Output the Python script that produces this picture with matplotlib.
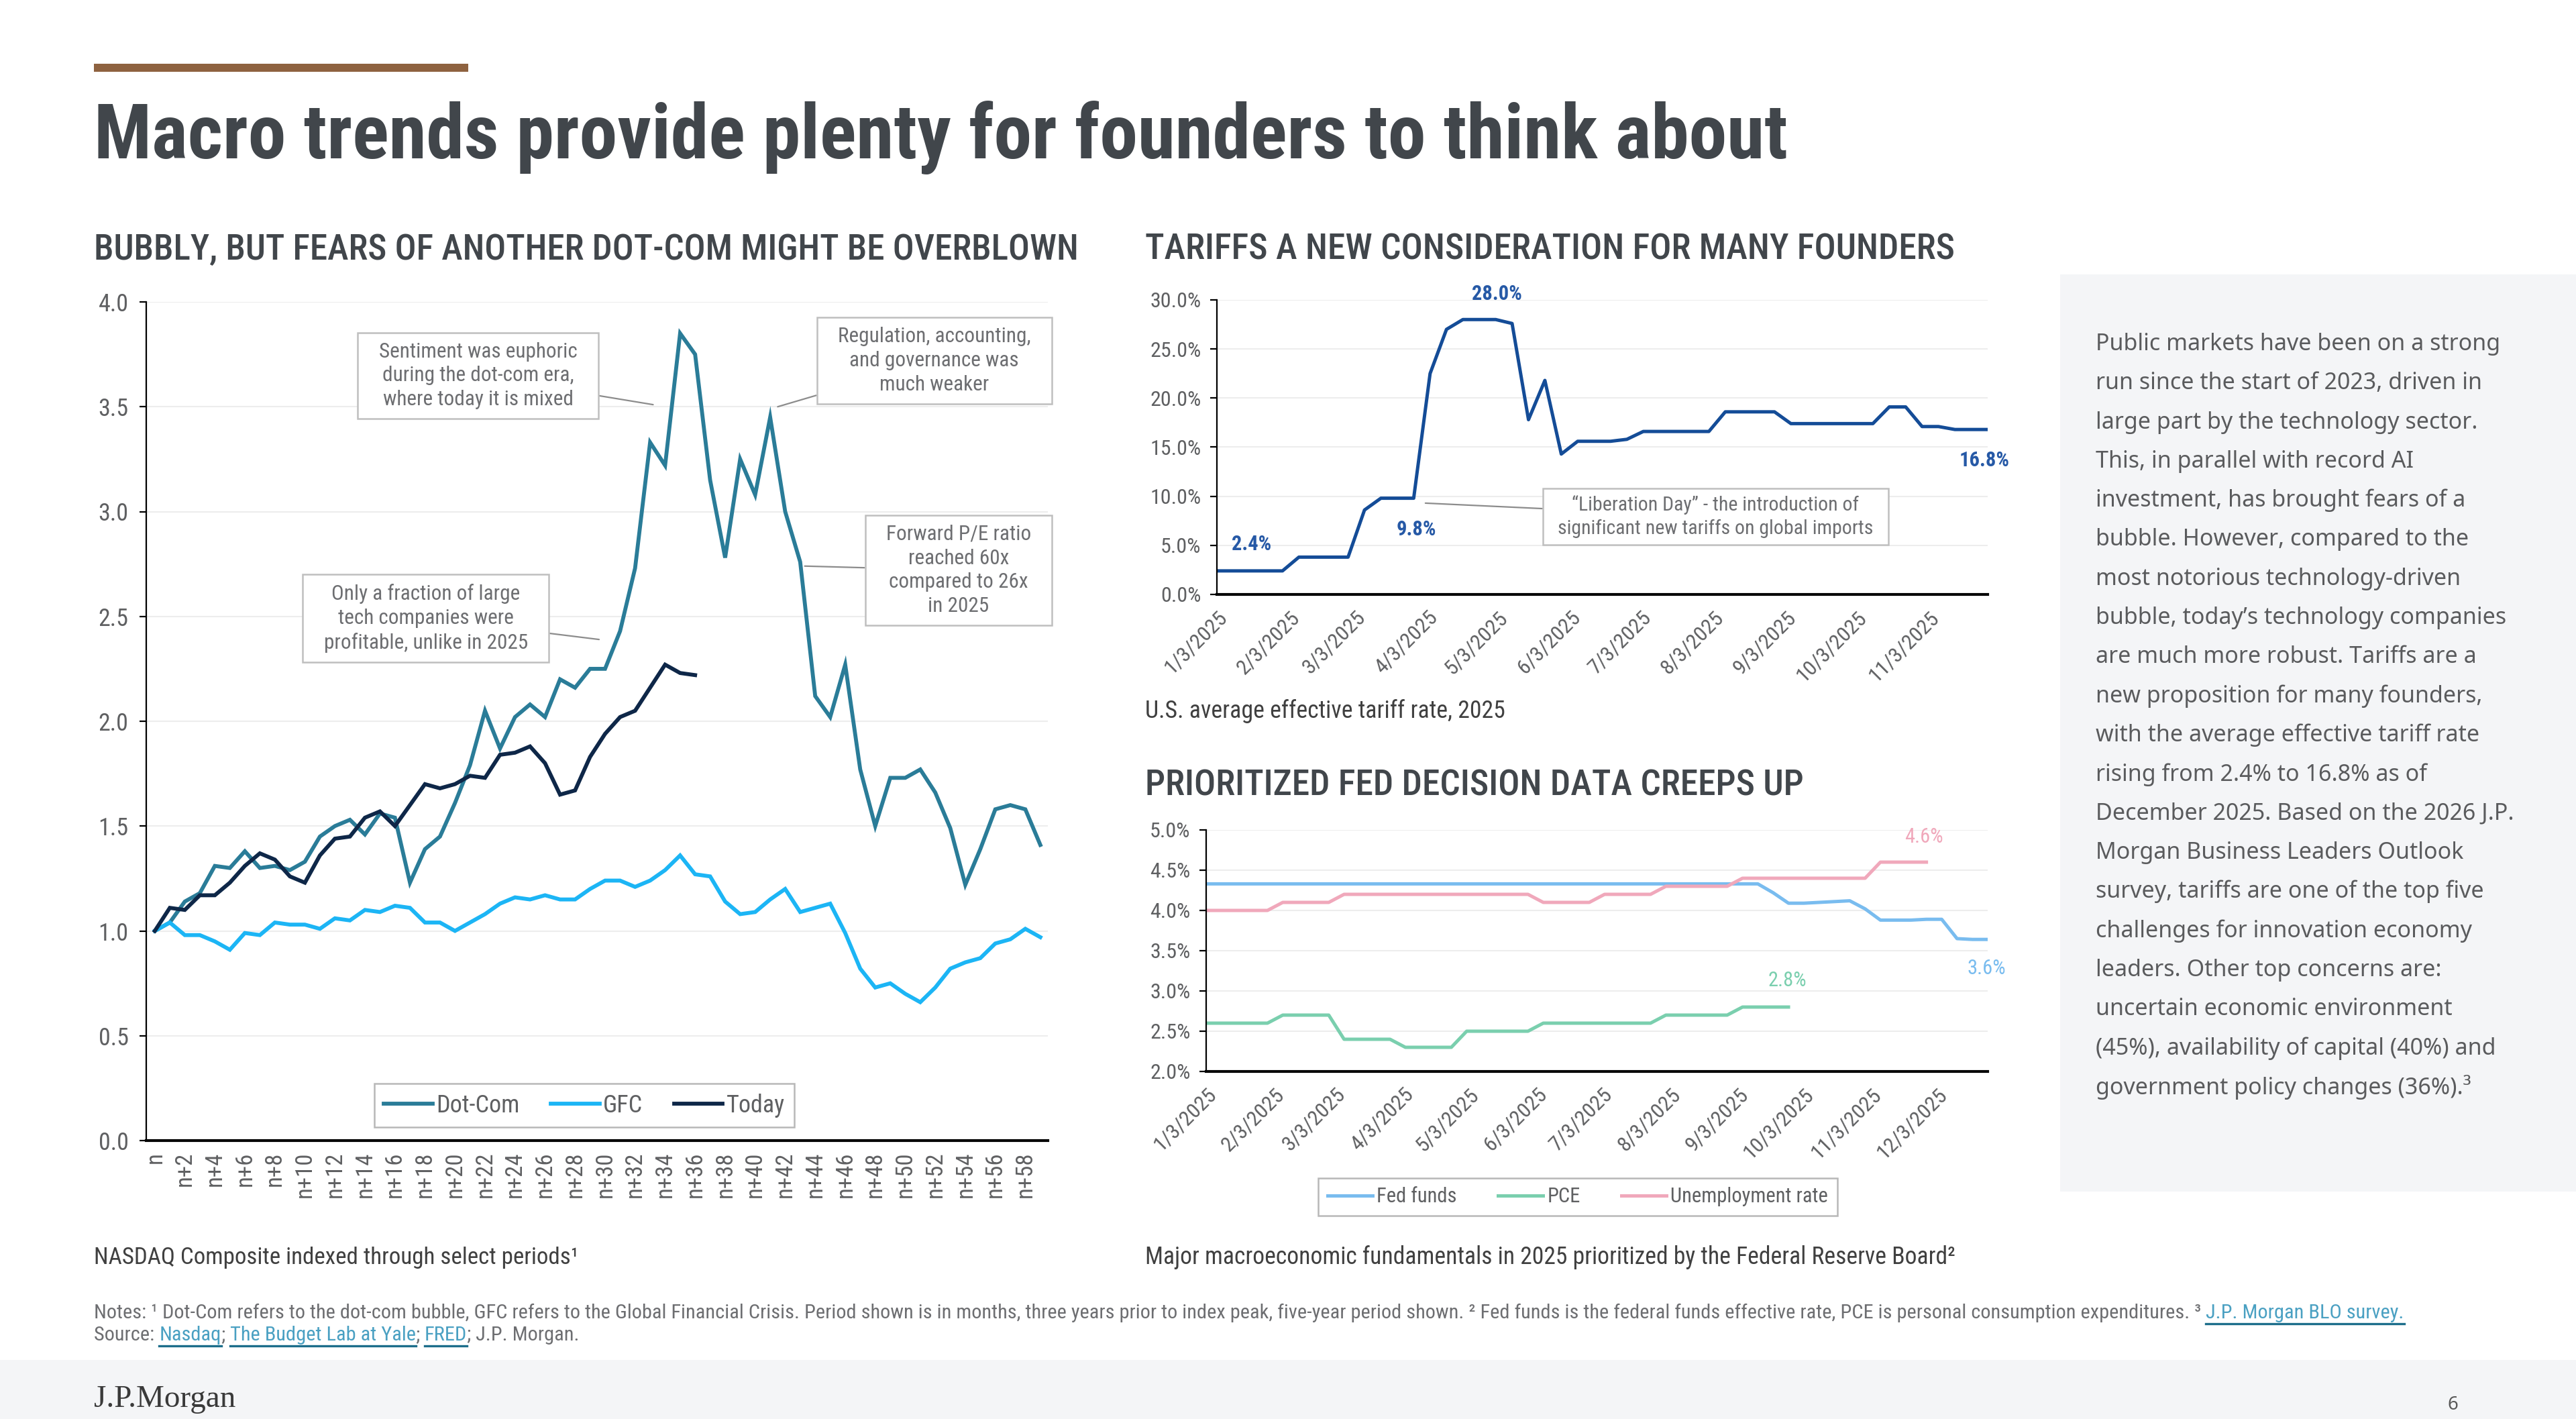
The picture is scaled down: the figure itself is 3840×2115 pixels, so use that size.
import matplotlib
matplotlib.use('Agg')
import matplotlib.pyplot as plt
import pandas as pd
from matplotlib import font_manager
from matplotlib.patches import Rectangle
from matplotlib.lines import Line2D
from matplotlib.path import Path

# figure size in pixels (saved at dpi 100)
W, H = 3840, 2115

installed = {f.name for f in font_manager.fontManager.ttflist}
def pick(*names):
    for n in names:
        if n in installed:
            return n
    return 'DejaVu Sans'

NARROW = pick('Liberation Sans Narrow', 'Roboto Condensed', 'Open Sans Condensed', 'DejaVu Sans')
BODY = pick('Noto Sans', 'Open Sans', 'DejaVu Sans')
SERIF = pick('Liberation Serif', 'DejaVu Serif')
plt.rcParams['font.family'] = [NARROW, 'DejaVu Sans']

# ---------------- data ----------------
# left chart: NASDAQ indexed, months around peak
periods = ['n'] + ['n+%d' % i for i in range(1, 60)]
dotcom = [1.00, 1.04, 1.14, 1.18, 1.31, 1.30, 1.38, 1.30, 1.31, 1.29,
          1.33, 1.45, 1.50, 1.53, 1.46, 1.56, 1.54, 1.23, 1.39, 1.45,
          1.61, 1.79, 2.05, 1.87, 2.02, 2.08, 2.02, 2.20, 2.16, 2.25,
          2.25, 2.43, 2.73, 3.33, 3.22, 3.85, 3.75, 3.15, 2.78, 3.25,
          3.08, 3.45, 3.00, 2.76, 2.12, 2.02, 2.27, 1.77, 1.50, 1.73,
          1.73, 1.77, 1.66, 1.49, 1.22, 1.39, 1.58, 1.60, 1.58, 1.41]
gfc = [1.00, 1.04, 0.98, 0.98, 0.95, 0.91, 0.99, 0.98, 1.04, 1.03,
       1.03, 1.01, 1.06, 1.05, 1.10, 1.09, 1.12, 1.11, 1.04, 1.04,
       1.00, 1.04, 1.08, 1.13, 1.16, 1.15, 1.17, 1.15, 1.15, 1.20,
       1.24, 1.24, 1.21, 1.24, 1.29, 1.36, 1.27, 1.26, 1.14, 1.08,
       1.09, 1.15, 1.20, 1.09, 1.11, 1.13, 0.99, 0.82, 0.73, 0.75,
       0.70, 0.66, 0.73, 0.82, 0.85, 0.87, 0.94, 0.96, 1.01, 0.97]
today = [1.00, 1.11, 1.10, 1.17, 1.17, 1.23, 1.31, 1.37, 1.34, 1.26,
         1.23, 1.36, 1.44, 1.45, 1.54, 1.57, 1.50, 1.60, 1.70, 1.68,
         1.70, 1.74, 1.73, 1.84, 1.85, 1.88, 1.80, 1.65, 1.67, 1.83,
         1.94, 2.02, 2.05, 2.16, 2.27, 2.23, 2.22]

# weekly dates 2025
weeks = ['2025-01-03', '2025-01-10', '2025-01-17', '2025-01-24', '2025-01-31',
         '2025-02-07', '2025-02-14', '2025-02-21', '2025-02-28',
         '2025-03-07', '2025-03-14', '2025-03-21', '2025-03-28',
         '2025-04-04', '2025-04-11', '2025-04-18', '2025-04-25',
         '2025-05-02', '2025-05-09', '2025-05-16', '2025-05-23', '2025-05-30',
         '2025-06-06', '2025-06-13', '2025-06-20', '2025-06-27',
         '2025-07-04', '2025-07-11', '2025-07-18', '2025-07-25',
         '2025-08-01', '2025-08-08', '2025-08-15', '2025-08-22', '2025-08-29',
         '2025-09-05', '2025-09-12', '2025-09-19', '2025-09-26',
         '2025-10-03', '2025-10-10', '2025-10-17', '2025-10-24', '2025-10-31',
         '2025-11-07', '2025-11-14', '2025-11-21', '2025-11-28',
         '2025-12-05', '2025-12-12', '2025-12-19', '2025-12-26']

# U.S. average effective tariff rate (%), Jan 3 - Nov 28
tariff = [2.4, 2.4, 2.4, 2.4, 2.4,
          3.8, 3.8, 3.8, 3.8,
          8.6, 9.8, 9.8, 9.8,
          22.5, 27.0, 28.0, 28.0,
          28.0, 27.6, 17.8, 21.8, 14.3,
          15.6, 15.6, 15.6, 15.8,
          16.6, 16.6, 16.6, 16.6,
          16.6, 18.6, 18.6, 18.6, 18.6,
          17.4, 17.4, 17.4, 17.4,
          17.4, 17.4, 19.1, 19.1, 17.1,
          17.1, 16.8, 16.8, 16.8]

# Fed decision data (%)
fed_funds = [4.33, 4.33, 4.33, 4.33, 4.33,
             4.33, 4.33, 4.33, 4.33,
             4.33, 4.33, 4.33, 4.33,
             4.33, 4.33, 4.33, 4.33,
             4.33, 4.33, 4.33, 4.33, 4.33,
             4.33, 4.33, 4.33, 4.33,
             4.33, 4.33, 4.33, 4.33,
             4.33, 4.33, 4.33, 4.33, 4.33,
             4.33, 4.33, 4.22, 4.09,
             4.09, 4.10, 4.11, 4.12, 4.02,
             3.88, 3.88, 3.88, 3.89,
             3.89, 3.65, 3.64, 3.64]
pce = [2.6, 2.6, 2.6, 2.6, 2.6,
       2.7, 2.7, 2.7, 2.7,
       2.4, 2.4, 2.4, 2.4,
       2.3, 2.3, 2.3, 2.3,
       2.5, 2.5, 2.5, 2.5, 2.5,
       2.6, 2.6, 2.6, 2.6,
       2.6, 2.6, 2.6, 2.6,
       2.7, 2.7, 2.7, 2.7, 2.7,
       2.8, 2.8, 2.8, 2.8]
unemp = [4.0, 4.0, 4.0, 4.0, 4.0,
         4.1, 4.1, 4.1, 4.1,
         4.2, 4.2, 4.2, 4.2,
         4.2, 4.2, 4.2, 4.2,
         4.2, 4.2, 4.2, 4.2, 4.2,
         4.1, 4.1, 4.1, 4.1,
         4.2, 4.2, 4.2, 4.2,
         4.3, 4.3, 4.3, 4.3, 4.3,
         4.4, 4.4, 4.4, 4.4,
         4.4, 4.4, 4.4, 4.4, 4.4,
         4.6, 4.6, 4.6, 4.6]

tariff_ticks = ['1/3/2025', '2/3/2025', '3/3/2025', '4/3/2025', '5/3/2025', '6/3/2025',
                '7/3/2025', '8/3/2025', '9/3/2025', '10/3/2025', '11/3/2025']
fed_ticks = tariff_ticks + ['12/3/2025']

body_lines = ["Public markets have been on a strong",
              "run since the start of 2023, driven in",
              "large part by the technology sector.",
              "This, in parallel with record AI",
              "investment, has brought fears of a",
              "bubble. However, compared to the",
              "most notorious technology-driven",
              "bubble, today\u2019s technology companies",
              "are much more robust. Tariffs are a",
              "new proposition for many founders,",
              "with the average effective tariff rate",
              "rising from 2.4% to 16.8% as of",
              "December 2025. Based on the 2026 J.P.",
              "Morgan Business Leaders Outlook",
              "survey, tariffs are one of the top five",
              "challenges for innovation economy",
              "leaders. Other top concerns are:",
              "uncertain economic environment",
              "(45%), availability of capital (40%) and",
              "government policy changes (36%).\u00b3"]

# colours
C_DOT, C_GFC, C_TODAY = '#2A7C98', '#1CB5F5', '#0E2748'
C_TAR, C_TARLBL = '#144C97', '#2659A6'
C_FED, C_PCE, C_UNEMP = '#79BCEF', '#7ACFAE', '#F0A8BB'
DARK, GREY, GRID = '#41464B', '#5F6062', '#EDEDED'

fig = plt.figure(figsize=(W / 100, H / 100), dpi=100)
fig.patch.set_facecolor('white')
R = fig.canvas.get_renderer()

def fx(x):
    return x / W

def fy(y):
    return 1 - y / H

def put(x, y, s, width=None, size=20, **kw):
    t = fig.text(fx(x), fy(y), s, fontsize=size, **kw)
    if width:
        w = t.get_window_extent(R).width
        t.set_fontsize(size * width / w)
    return t

def make_box(padx, pady):
    # square box with separate horizontal / vertical padding (in font-size units)
    def box(x0, y0, width, height, mutation_size):
        px, py = padx * mutation_size, pady * mutation_size
        x0, y0 = x0 - px, y0 - py
        x1, y1 = x0 + width + 2 * px, y0 + height + 2 * py
        return Path([(x0, y0), (x1, y0), (x1, y1), (x0, y1), (x0, y0)], closed=True)
    return box

def style_axes(ax, tick_size):
    for s in ['top', 'right']:
        ax.spines[s].set_visible(False)
    ax.spines['left'].set_linewidth(1.6)
    ax.spines['bottom'].set_linewidth(3.0)
    ax.spines['left'].set_color('black')
    ax.spines['bottom'].set_color('black')
    ax.grid(axis='y', color=GRID, lw=1.5)
    ax.set_axisbelow(True)
    ax.tick_params(axis='y', length=7, width=1.6, pad=10, labelsize=tick_size, labelcolor=GREY)
    ax.tick_params(axis='x', length=0, labelsize=tick_size, labelcolor=GREY)

# background panels
fig.add_artist(Rectangle((fx(3071), fy(1776)), fx(3840 - 3071), (1776 - 409) / H,
                         transform=fig.transFigure, fc='#F4F5F7', ec='none', zorder=0))
fig.add_artist(Rectangle((0, 0), 1, (2115 - 2027) / H,
                         transform=fig.transFigure, fc='#F4F5F7', ec='none', zorder=0))
fig.add_artist(Rectangle((fx(140), fy(107)), fx(698 - 140), 12 / H,
                         transform=fig.transFigure, fc='#8E6240', ec='none'))

# titles
put(140, 236, "Macro trends provide plenty for founders to think about", width=2525, size=70,
    weight='bold', color=DARK, va='baseline')
put(140, 387, "BUBBLY, BUT FEARS OF ANOTHER DOT-COM MIGHT BE OVERBLOWN", width=1469, size=36,
    weight='medium', color=DARK, va='baseline')
put(1707, 387, "TARIFFS A NEW CONSIDERATION FOR MANY FOUNDERS", width=1207, size=36,
    weight='medium', color=DARK, va='baseline')
put(1707, 1185, "PRIORITIZED FED DECISION DATA CREEPS UP", width=980, size=36,
    weight='medium', color=DARK, va='baseline')

# ---------------- left chart ----------------
ax1 = fig.add_axes([fx(218), fy(1700), fx(1562 - 218), (1700 - 450) / H])
x_idx = list(range(len(periods)))
ax1.plot(x_idx, dotcom, color=C_DOT, lw=4.2, label='Dot-Com', solid_joinstyle='miter')
ax1.plot(x_idx, gfc, color=C_GFC, lw=4.2, label='GFC', solid_joinstyle='miter')
ax1.plot(x_idx[:len(today)], today, color=C_TODAY, lw=4.2, label='Today', solid_joinstyle='miter')
ax1.set_xlim(-0.57, 59.5)
ax1.set_ylim(0, 4.0)
ax1.set_yticks([0, 0.5, 1.0, 1.5, 2.0, 2.5, 3.0, 3.5, 4.0])
ax1.set_yticklabels(['%.1f' % v for v in ax1.get_yticks()])
ax1.set_xticks(x_idx[::2])
ax1.set_xticklabels(periods[::2], rotation=90)
style_axes(ax1, 26)
ax1.tick_params(axis='y', pad=12)
ax1.tick_params(axis='x', pad=12, labelsize=25)
leg = ax1.legend(loc='lower center', bbox_to_anchor=(0.486, 0.016), ncol=3, fancybox=False,
                 edgecolor='#A6A6A6', fontsize=26, handlelength=2.0, handletextpad=0.15,
                 columnspacing=1.3, borderpad=0.4, borderaxespad=0)
leg.get_frame().set_linewidth(1.8)
for t in leg.get_texts():
    t.set_color(GREY)

box_kw = dict(ha='center', va='center', fontsize=22.5, color='#6D6E71', linespacing=1.3,
              textcoords='axes fraction',
              bbox=dict(boxstyle=make_box(1.0, 0.45), fc='white', ec='#BFBFBF', lw=1.8),
              arrowprops=dict(arrowstyle='-', color='#8C8C8C', lw=1.6, shrinkA=0, shrinkB=0))
ax1.annotate("Sentiment was euphoric\nduring the dot-com era,\nwhere today it is mixed",
             xy=(33.2, 3.51), xytext=(0.368, 0.912), **box_kw)
ax1.annotate("Only a fraction of large\ntech companies were\nprofitable, unlike in 2025",
             xy=(29.6, 2.39), xytext=(0.310, 0.623), **box_kw)
ax1.annotate("Regulation, accounting,\nand governance was\nmuch weaker",
             xy=(41.5, 3.50), xytext=(0.874, 0.930), **box_kw)
ax1.annotate("Forward P/E ratio\nreached 60x\ncompared to 26x\nin 2025",
             xy=(43.3, 2.74), xytext=(0.901, 0.680), **box_kw)

# ---------------- tariff chart ----------------
wk = pd.to_datetime(weeks)
ax2 = fig.add_axes([fx(1814), fy(886), fx(2963 - 1814), (886 - 447) / H])
ax2.plot(wk[:len(tariff)], tariff, color=C_TAR, lw=3.6)
ax2.set_xlim(wk[0], wk[len(tariff) - 1])
ax2.set_ylim(0, 30)
ax2.set_yticks([0, 5, 10, 15, 20, 25, 30])
ax2.set_yticklabels(['%.1f%%' % v for v in [0, 5, 10, 15, 20, 25, 30]])
t_pos = pd.to_datetime(tariff_ticks, format='%m/%d/%Y')
ax2.set_xticks(t_pos)
ax2.set_xticklabels(tariff_ticks, rotation=45, ha='right', va='top', rotation_mode='anchor')
style_axes(ax2, 23)
ax2.tick_params(axis='x', pad=14)

lab_kw = dict(textcoords='offset pixels', ha='center', va='center', fontsize=22,
              weight='bold', color=C_TARLBL)
i_max = tariff.index(max(tariff)) + 1
ax2.annotate('%.1f%%' % tariff[i_max], xy=(wk[i_max], tariff[i_max]), xytext=(26, 38), **lab_kw)
ax2.annotate('%.1f%%' % tariff[0], xy=(wk[0], tariff[0]), xytext=(52, 40), **lab_kw)
ax2.annotate('%.1f%%' % tariff[12], xy=(wk[12], tariff[12]), xytext=(4, -46), **lab_kw)
ax2.annotate('%.1f%%' % tariff[-1], xy=(wk[len(tariff) - 1], tariff[-1]), xytext=(-5, -46),
             annotation_clip=False, **lab_kw)
ax2.annotate("\u201cLiberation Day\u201d - the introduction of\nsignificant new tariffs on global imports",
             xy=(pd.Timestamp('2025-04-02'), 9.3), xytext=(0.647, 0.264), textcoords='axes fraction',
             ha='center', va='center', fontsize=21.5, color='#6D6E71', linespacing=1.3,
             bbox=dict(boxstyle=make_box(0.75, 0.35), fc='white', ec='#BFBFBF', lw=1.8),
             arrowprops=dict(arrowstyle='-', color='#8C8C8C', lw=1.6, shrinkA=0, shrinkB=0))

# ---------------- fed chart ----------------
ax3 = fig.add_axes([fx(1798), fy(1597), fx(2963 - 1798), (1597 - 1237) / H])
l1, = ax3.plot(wk[:len(fed_funds)], fed_funds, color=C_FED, lw=3.6, label='Fed funds')
l2, = ax3.plot(wk[:len(pce)], pce, color=C_PCE, lw=3.6, label='PCE')
l3, = ax3.plot(wk[:len(unemp)], unemp, color=C_UNEMP, lw=3.6, label='Unemployment rate')
ax3.set_xlim(wk[0], wk[len(fed_funds) - 1])
ax3.set_ylim(2.0, 5.0)
f_y = [2.0, 2.5, 3.0, 3.5, 4.0, 4.5, 5.0]
ax3.set_yticks(f_y)
ax3.set_yticklabels(['%.1f%%' % v for v in f_y])
f_pos = pd.to_datetime(fed_ticks, format='%m/%d/%Y')
ax3.set_xticks(f_pos)
ax3.set_xticklabels(fed_ticks, rotation=45, ha='right', va='top', rotation_mode='anchor')
style_axes(ax3, 23)
ax3.tick_params(axis='x', pad=14)

fl_kw = dict(textcoords='offset pixels', ha='center', va='center', fontsize=22,
             annotation_clip=False)
ax3.annotate('%.1f%%' % unemp[-1], xy=(wk[len(unemp) - 1], unemp[-1]), xytext=(-4, 38),
             color=C_UNEMP, **fl_kw)
ax3.annotate('%.1f%%' % pce[-1], xy=(wk[len(pce) - 1], pce[-1]), xytext=(-2, 39),
             color=C_PCE, **fl_kw)
ax3.annotate('%.1f%%' % fed_funds[-1], xy=(wk[len(fed_funds) - 1], fed_funds[-1]), xytext=(-2, -43),
             color=C_FED, **fl_kw)

leg2 = fig.legend(handles=[l1, l2, l3], loc='center', bbox_to_anchor=(fx(2352), fy(1784)), ncol=3,
                  fancybox=False, edgecolor='#A6A6A6', fontsize=22, handlelength=2.2,
                  handletextpad=0.2, columnspacing=2.0, borderpad=0.45)
leg2.get_frame().set_linewidth(1.8)
for t in leg2.get_texts():
    t.set_color(GREY)

# captions
put(140, 1884, "NASDAQ Composite indexed through select periods\u00b9", width=725, size=24,
    color='#404040', va='baseline')
put(1707, 1070, "U.S. average effective tariff rate, 2025", width=539, size=24,
    color='#404040', va='baseline')
put(1707, 1884, "Major macroeconomic fundamentals in 2025 prioritized by the Federal Reserve Board\u00b2",
    width=1207, size=24, color='#404040', va='baseline')

# body text in the grey panel
probe = put(3124, 0, body_lines[12], width=624, size=24, family=BODY)
body_size = probe.get_fontsize()
probe.remove()
for k, line in enumerate(body_lines):
    put(3124, 513 + k * 58.3, line, size=body_size, family=BODY, color='#5A5B5D', va='center')

# notes with link segments
LINK, LINE_C, NOTE_C = '#4AA0C2', '#1D6E8B', '#6D6E71'
note1 = [("Notes: \u00b9 Dot-Com refers to the dot-com bubble, GFC refers to the Global Financial Crisis. "
          "Period shown is in months, three years prior to index peak, five-year period shown. "
          "\u00b2 Fed funds is the federal funds effective rate, PCE is personal consumption expenditures. \u00b3 ", False),
         ("J.P. Morgan BLO survey.", True)]
note2 = [("Source: ", False), ("Nasdaq", True), ("; ", False), ("The Budget Lab at Yale", True),
         ("; ", False), ("FRED", True), ("; J.P. Morgan.", False)]
probe = put(140, 0, ''.join(s for s, _ in note1), width=3441, size=20)
note_size = probe.get_fontsize()
probe.remove()

def run_line(x, y, parts):
    for s, link in parts:
        t = put(x, y, s, size=note_size, color=LINK if link else NOTE_C, va='baseline')
        w = t.get_window_extent(R).width
        if link:
            fig.add_artist(Line2D([fx(x), fx(x + w)], [fy(y + 8), fy(y + 8)], color=LINE_C, lw=2.4))
        x += w

run_line(140, 1965, note1)
run_line(140, 1998, note2)

# footer
put(140, 2097, "J.P.Morgan", width=211, size=28, family=SERIF, color='#3A3A3A', va='baseline')
put(3656, 2094, "6", size=20, family=BODY, color='#595959', ha='center', va='center')

fig.savefig('out.png', dpi=100, facecolor='white')
